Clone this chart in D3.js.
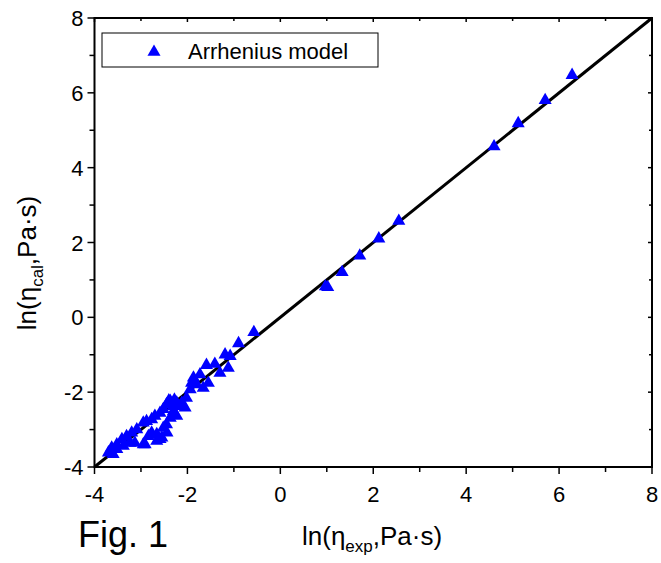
<!DOCTYPE html>
<html><head><meta charset="utf-8">
<script src="https://cdn.jsdelivr.net/npm/d3@7"></script>
<style>body{margin:0;background:#fff}svg{display:block}text{font-family:Arial,"Liberation Sans",sans-serif;fill:#000}</style>
</head><body>
<script>
const xExp = [6.28,5.70,5.12,4.60,2.55,2.12,1.71,1.33,0.97,1.02,-0.57,-0.90,-1.08,-1.19,-1.12,-1.59,-1.41,-1.73,-1.30,-1.55,-1.91,-1.94,-1.66,-2.02,-2.12,-2.37,-2.45,-2.52,-2.59,-2.70,-2.77,-2.88,-2.95,-3.09,-3.20,-3.31,-3.41,-3.52,-3.63,-3.70,-2.30,-2.23,-2.37,-2.45,-2.52,-2.66,-2.59,-2.77,-2.95,-2.84,-3.13,-3.24,-3.38,-3.52,-3.60,-1.80,-1.87,-2.23,-2.31,-2.05,-2.16,-2.91,-2.66,-2.55,-2.44,-2.40,-2.28];
const yCal = [6.50,5.83,5.21,4.59,2.60,2.13,1.67,1.23,0.85,0.83,-0.37,-0.67,-1.01,-0.97,-1.33,-1.25,-1.22,-1.50,-1.46,-1.73,-1.73,-1.90,-1.86,-2.13,-2.26,-2.21,-2.30,-2.43,-2.53,-2.61,-2.70,-2.75,-2.79,-2.97,-3.06,-3.15,-3.23,-3.37,-3.46,-3.59,-2.48,-2.61,-2.66,-2.84,-2.93,-3.10,-3.23,-3.06,-3.37,-3.15,-3.33,-3.33,-3.41,-3.50,-3.63,-1.77,-1.59,-2.26,-2.35,-2.39,-2.35,-3.37,-3.28,-3.19,-3.06,-2.20,-2.18];
const majorTicks = [-4,-2,0,2,4,6,8];
const minorTicks = [-3,-1,1,3,5,7];
const legendLabel = "Arrhenius model";
const domain = [-4, 8];

const W = 661, H = 563;
const L = 94.5, R = 652, T = 18, B = 467;
const svg = d3.select("body").append("svg").attr("width", W).attr("height", H);
const x = d3.scaleLinear().domain(domain).range([L, R]);
const y = d3.scaleLinear().domain(domain).range([B, T]);

svg.append("line").attr("x1", x(domain[0])).attr("y1", y(domain[0])).attr("x2", x(domain[1])).attr("y2", y(domain[1]))
  .attr("stroke", "#000").attr("stroke-width", 3);

const tri = d3.symbol().type(d3.symbolTriangle).size(74);
svg.append("g").selectAll("path").data(xExp.map((v,i)=>[v,yCal[i]])).join("path")
  .attr("d", tri).attr("transform", d => `translate(${x(d[0])},${y(d[1])+1})`).attr("fill", "#0000ff");

svg.append("rect").attr("x", L).attr("y", T).attr("width", R-L).attr("height", B-T)
  .attr("fill", "none").attr("stroke", "#000").attr("stroke-width", 2);

const ax = svg.append("g").attr("stroke", "#000").attr("stroke-width", 1.5);
majorTicks.forEach(v => {
  ax.append("line").attr("x1", x(v)).attr("x2", x(v)).attr("y1", B).attr("y2", B+7);
  ax.append("line").attr("y1", y(v)).attr("y2", y(v)).attr("x1", L).attr("x2", L-7);
  ax.append("line").attr("x1", x(v)).attr("x2", x(v)).attr("y1", T).attr("y2", T+4);
  ax.append("line").attr("y1", y(v)).attr("y2", y(v)).attr("x1", R).attr("x2", R-4);
});
minorTicks.forEach(v => {
  ax.append("line").attr("x1", x(v)).attr("x2", x(v)).attr("y1", B).attr("y2", B+5);
  ax.append("line").attr("y1", y(v)).attr("y2", y(v)).attr("x1", L).attr("x2", L-5);
  ax.append("line").attr("x1", x(v)).attr("x2", x(v)).attr("y1", T).attr("y2", T+3);
  ax.append("line").attr("y1", y(v)).attr("y2", y(v)).attr("x1", R).attr("x2", R-3);
});
svg.append("g").selectAll("text").data(majorTicks).join("text")
  .attr("x", d => x(d)).attr("y", B+35).attr("text-anchor", "middle").attr("font-size", 22).text(d => d);
svg.append("g").selectAll("text").data(majorTicks).join("text")
  .attr("x", L-11).attr("y", d => y(d)+8).attr("text-anchor", "end").attr("font-size", 22).text(d => d);

svg.append("rect").attr("x", 102).attr("y", 33).attr("width", 276).attr("height", 34)
  .attr("fill", "#fff").attr("stroke", "#000").attr("stroke-width", 1);
svg.append("path").attr("d", tri).attr("transform", "translate(154,52)").attr("fill", "#0000ff");
svg.append("text").attr("x", 188).attr("y", 59).attr("font-size", 22).text(legendLabel);

function title(sel, sub) {
  sel.append("tspan").text("ln(η");
  sel.append("tspan").attr("font-size", 17).attr("dy", 7).text(sub);
  sel.append("tspan").attr("dy", -7).text(",Pa·s)");
}
title(svg.append("text").attr("x", 302).attr("y", 545).attr("font-size", 26), "exp");
title(svg.append("text").attr("transform", "translate(36,263) rotate(-90)").attr("text-anchor", "middle").attr("font-size", 26), "cal");

svg.append("text").attr("x", 78).attr("y", 547).attr("font-size", 36).text("Fig. 1");
</script>
</body></html>
